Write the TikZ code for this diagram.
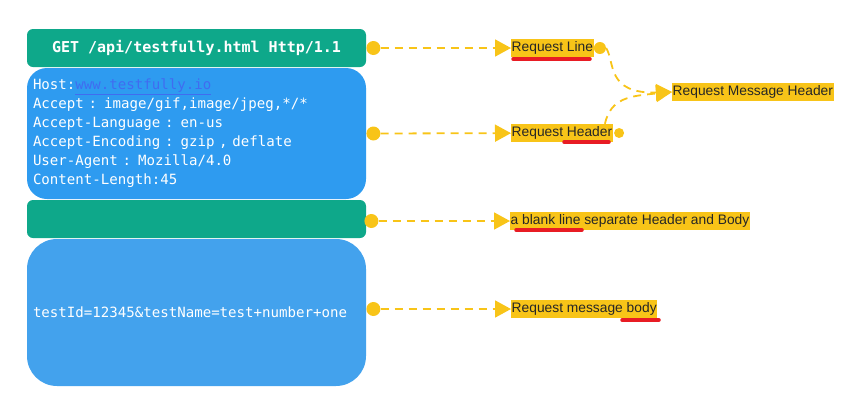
\documentclass[tikz,border=0pt]{standalone}
\usepackage{fontspec}
\setmainfont{Liberation Sans}
\setmonofont[WordSpace={1,0,0}]{DejaVu Sans Mono}
\usetikzlibrary{arrows.meta, calc, positioning}

\definecolor{boxgreen}{RGB}{14,168,138}
\definecolor{boxblue}{RGB}{46,155,240}
\definecolor{bodyblue}{RGB}{67,162,237}
\definecolor{tagyellow}{RGB}{248,196,24}
\definecolor{linkblue}{RGB}{64,108,240}
\definecolor{markred}{RGB}{232,28,36}

\begin{document}
\begin{tikzpicture}[x=1pt, y=-1pt,
  part/.style={minimum width=339pt, inner xsep=6pt, text=white, font=\ttfamily\fontsize{14.1}{19}\selectfont},
  tag/.style={anchor=west, fill=tagyellow, inner xsep=0.5pt, inner ysep=2pt, text height=10.5pt, text depth=3.5pt, font=\fontsize{13.8}{17}\selectfont, text=black!85},
  dot/.style={circle, fill=tagyellow, inner sep=0pt, minimum size=14pt},
  link/.style={tagyellow, line width=1.8pt, dash pattern=on 8pt off 6pt, -{Triangle[length=16pt,width=17pt]}},
  redline/.style={markred, line width=3.5pt, line cap=round}]

\useasboundingbox (0,0) rectangle (855,413);

% Message parts
\node [part, fill=boxgreen, rounded corners=6pt, minimum height=38pt, font=\ttfamily\bfseries\fontsize{15}{19}\selectfont] (reqline) at (196.5,48) {GET /api/testfully.html Http/1.1};
\node [part, fill=boxblue, rounded corners=20pt, minimum height=131pt, text width=327pt, align=left] (header) at (196.5,133.5) {Host:\textcolor{linkblue}{\underline{www.testfully.io}}\\Accept : image/gif,image/jpeg,*/*\\Accept-Language : en-us\\Accept-Encoding : gzip , deflate\\User-Agent : Mozilla/4.0\\Content-Length:45};
\node [part, fill=boxgreen, rounded corners=6pt, minimum height=38pt] (blank) at (196.5,219) {};
\node [part, fill=bodyblue, rounded corners=30pt, minimum height=147pt, text width=327pt, align=left] (body) at (196.5,312.5) {testId=12345\&testName=test+number+one};

% Dots
\node [dot, right=0pt of reqline] (d1) {};
\node [dot, right=0pt of header] (d2) {};
\node [dot, right=-2pt of blank, yshift=-2pt] (d3) {};
\node [dot, right=0pt of body, yshift=3.5pt] (d4) {};

% Labels
\node [tag] (rl) at (511,48) {Request Line};
\node [tag] (rh) at (511,133) {Request Header};
\node [tag] (rmsg) at (672,92) {Request Message Header};
\node [tag] (rblank) at (510,221) {a blank line separate Header and Body};
\node [tag] (rbody) at (511,309) {Request message body};
\node [dot, minimum size=12pt, right=0pt of rl] (rlend) {};
\node [dot, minimum size=10pt, right=1pt of rh] (rhend) {};
\coordinate (hdtop) at ($(rh.north east)+(-8,0)$);

% Links
\draw [link] (d1) -- (rl);
\draw [link] (d2) -- (rh);
\draw [link] (d3) -- (rblank);
\draw [link] (d4) -- (rbody);
\draw [link] (rlend.east) .. controls +(9,14) and +(-66,2) .. (rmsg.west);
\draw [link] (hdtop) .. controls +(6,-26) and +(-42,4) .. (rmsg.west);

% Marks
\draw [redline] (513,59) -- (590,59);
\draw [redline] (564,142) -- (609,142);
\draw [redline] (516,230) -- (582,230);
\draw [redline] (622,320) -- (659,320);

\end{tikzpicture}
\end{document}
